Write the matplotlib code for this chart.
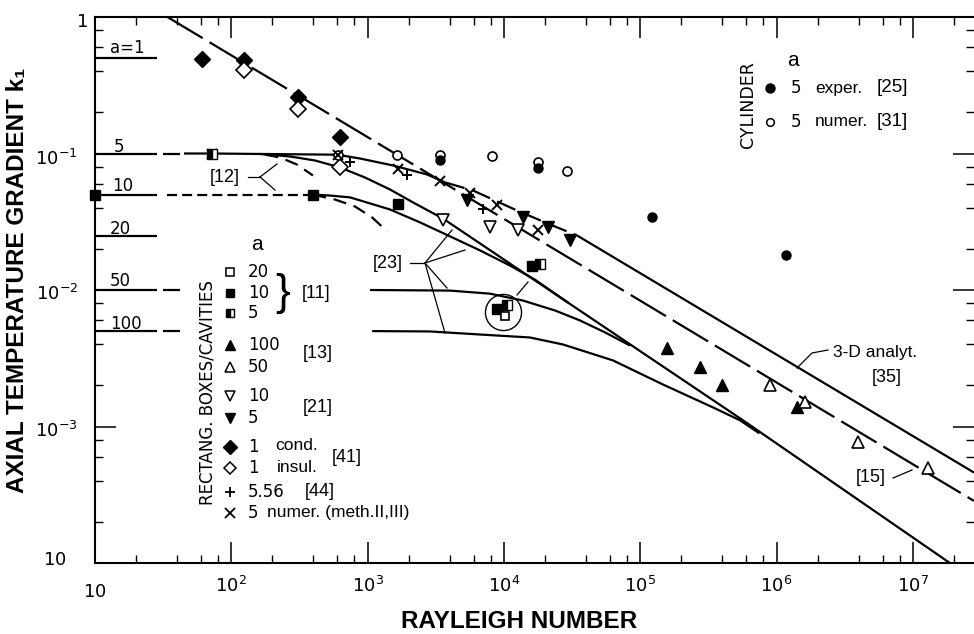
import matplotlib
matplotlib.use("Agg")
import matplotlib.pyplot as plt
from matplotlib.ticker import LogLocator, NullFormatter
from matplotlib.lines import Line2D
import matplotlib.transforms as mtrans

# ---------------------------------------------------------------- data
# asymptotic levels k1 = 1/(2a) marked at the left edge
level_lab = ["a=1", "5", "10", "20", "50", "100"]
level_k = [0.5, 0.1, 0.05, 0.025, 0.01, 0.005]
level_ra = [10, 28.5]
gap_ra = [31.5, 42]          # short extra dash after some level marks

# long-dashed a=1 line continuing as [15]
a1_ra = [34, 2.81e7]
a1_k = [1.0, 2.85e-4]

# a=5 curve ending as "3-D analyt. [35]"
a5_ra = [45, 72, 600, 879, 1540, 2730, 3700, 5930, 12500, 21800, 34400, 2.81e7]
a5_k = [0.1, 0.1, 0.098, 0.0919, 0.0817, 0.0702, 0.0614, 0.0536, 0.0382, 0.0302, 0.0251, 4.6e-4]

# [23] curves
l1_ra = [163, 270, 411, 628, 957, 1460, 2230, 3570, 5.68e5, 1.87e7]
l1_k = [0.0992, 0.0951, 0.0889, 0.079, 0.0667, 0.0545, 0.043, 0.0334, 0.00111, 1.0e-4]
a10_dash_ra = [33.7, 397]
l2_ra = [397, 530, 743, 1460, 2420, 4030, 6680, 11100, 16900, 30000]
l2_k = [0.05, 0.0492, 0.0477, 0.0389, 0.0313, 0.0247, 0.0195, 0.0151, 0.0119, 0.0080]
a50_ra = [1040, 4030, 7900, 13800, 23700, 36200, 55200, 84200]
a50_k = [0.01, 0.0099, 0.0094, 0.00837, 0.00708, 0.00598, 0.00489, 0.00392]
a100_ra = [1080, 2870, 6680, 15500, 27100, 63100, 1.47e5, 3.42e5, 5.4e5, 7.5e5]
a100_k = [0.005, 0.00497, 0.00472, 0.00449, 0.00399, 0.00305, 0.00203, 0.00138, 0.00111, 0.00089]

# [12] dashed curves
d12a_ra = [177, 228, 303, 397]
d12a_k = [0.098, 0.0935, 0.083, 0.069]
d12b_ra = [397, 577, 809, 1080, 1390]
d12b_k = [0.05, 0.046, 0.0409, 0.034, 0.0269]

# data points
cond_ra = [61, 124, 308, 628];          cond_k = [0.492, 0.484, 0.258, 0.133]
insul_ra = [124, 308, 628];             insul_k = [0.41, 0.211, 0.079]
cyl_num_ra = [607, 1640, 3400, 8180, 17800, 29000]
cyl_num_k = [0.098, 0.097, 0.097, 0.0955, 0.086, 0.075]
cyl_exp_ra = [3400, 17800, 1.22e5, 1.17e6]
cyl_exp_k = [0.089, 0.078, 0.0345, 0.0182]
cross_ra = [72, 607, 1670, 3400, 5640, 8890, 17800]
cross_k = [0.1, 0.098, 0.0772, 0.0634, 0.051, 0.0423, 0.0277]
plus_ra = [743, 1950, 7030];            plus_k = [0.086, 0.069, 0.0389]
vfill_ra = [5360, 13800, 21100, 30500]; vfill_k = [0.046, 0.034, 0.0287, 0.0234]
vopen_ra = [3570, 7900, 12700];         vopen_k = [0.0328, 0.0287, 0.0273]
tfill_ra = [1.57e5, 2.75e5, 3.98e5, 1.41e6]
tfill_k = [0.00379, 0.00275, 0.00203, 0.0014]
topen_ra = [8.96e5, 1.62e6, 3.96e6, 1.29e7]
topen_k = [0.0020, 0.00152, 0.00077, 0.000495]
sqf_ra = [10, 397, 1670, 8890, 16100];  sqf_k = [0.05, 0.05, 0.043, 0.0073, 0.0151]
sqh_ra = [72, 10500, 18400];            sqh_k = [0.1, 0.0078, 0.0156]
sqo_ra = [10200];                       sqo_k = [0.0065]
circ_ra = [9849];                       circ_k = [0.0069]

x_ticks = [10, 1e2, 1e3, 1e4, 1e5, 1e6, 1e7]
x_ticklabels = ["$10$", "$10^2$", "$10^3$", "$10^4$", "$10^5$", "$10^6$", "$10^7$"]

# ---------------------------------------------------------------- figure
W, H = 974, 634
fig = plt.figure(figsize=(W / 100, H / 100), dpi=100)
ax = fig.add_axes([95 / W, 1 - 563 / H, (974 - 95) / W, (563 - 17) / H])


def fx(x):
    return x / W


def fy(y):
    return 1 - y / H


TXT = "Liberation Sans"
NUM = "DejaVu Sans"
LW = 1.6

ax.set_xscale("log")
ax.set_yscale("log")
ax.set_xlim(10, 10 ** 7.449)
ax.set_ylim(1e-4, 1)


def curve(xs, ys, dashes=None, lw=LW, **kw):
    ln, = ax.plot(xs, ys, color="k", lw=lw, solid_capstyle="butt",
                  dash_capstyle="butt", solid_joinstyle="round", clip_on=True, **kw)
    if dashes is not None:
        ln.set_dashes(dashes)
    return ln


# level marks
for lab, k in zip(level_lab, level_k):
    curve(level_ra, [k, k])
    if lab in ("5", "50", "100"):
        curve(gap_ra, [k, k])

# long dashed a=1 / [15]
curve(a1_ra, a1_k, dashes=(18.5, 3.6))
# a=5 curve: solid, dashed middle part, solid tail
curve(a5_ra[:7], a5_k[:7])
curve(a5_ra[6:11], a5_k[6:11], dashes=(9, 3.5))
curve(a5_ra[10:], a5_k[10:])
# [23] curves
curve(l1_ra, l1_k)
curve(a10_dash_ra, [0.05, 0.05], dashes=(4.5, 2.3))
curve(l2_ra, l2_k)
curve(a50_ra, a50_k)
curve(a100_ra, a100_k)
# [12]
curve(d12a_ra, d12a_k, dashes=(6, 3.5))
curve(d12b_ra, d12b_k, dashes=(6, 3.5))

# markers
mk = dict(linestyle="none", clip_on=False, zorder=5)
ax.plot(cond_ra, cond_k, marker="D", ms=8.5, mfc="k", mec="k", **mk)
ax.plot(insul_ra, insul_k, marker="D", ms=8, mfc="white", mec="k", mew=1.2, **mk)
ax.plot(cyl_num_ra, cyl_num_k, marker="o", ms=6.5, mfc="white", mec="k", mew=1.2, **mk)
ax.plot(cyl_exp_ra, cyl_exp_k, marker="o", ms=6.5, mfc="k", mec="k", **mk)
ax.plot(cross_ra, cross_k, marker="x", ms=7, mec="k", mew=1.4, **mk)
ax.plot(plus_ra, plus_k, marker="+", ms=7, mec="k", mew=1.4, **mk)
ax.plot(vfill_ra, vfill_k, marker="v", ms=8, mfc="k", mec="k", **mk)
ax.plot(vopen_ra, vopen_k, marker="v", ms=8, mfc="white", mec="k", mew=1.2, **mk)
ax.plot(tfill_ra, tfill_k, marker="^", ms=8, mfc="k", mec="k", **mk)
ax.plot(topen_ra, topen_k, marker="^", ms=8, mfc="white", mec="k", mew=1.2, **mk)
ax.plot(sqf_ra, sqf_k, marker="s", ms=6.5, mfc="k", mec="k", **mk)
ax.plot(sqh_ra, sqh_k, marker="s", ms=6.5, mfc="k", mec="k", fillstyle="left",
        markerfacecoloralt="white", **mk)
ax.plot(sqo_ra, sqo_k, marker="s", ms=6, mfc="white", mec="k", mew=1.2, **mk)
ax.plot(circ_ra, circ_k, marker="o", ms=26, mfc="none", mec="k", mew=1.0, **mk)

# leader lines (data coordinates)
LL = 0.9
ax.plot([132.6, 162.4], [0.0673, 0.0673], color="k", lw=LL)
ax.plot([162.4, 216.4], [0.0673, 0.0838], color="k", lw=LL)
ax.plot([162.4, 209.2], [0.0673, 0.0540], color="k", lw=LL)
ax.plot([2047, 2637], [0.01577, 0.01577], color="k", lw=LL)
for ex, ey in [(4162, 0.02751), (5183, 0.01963), (3824, 0.01034), (3698, 0.00484)]:
    ax.plot([2637, ex], [0.01577, ey], color="k", lw=LL)
ax.plot([12480, 15030], [0.00919, 0.01145], color="k", lw=LL)
ax.plot([1.414e6, 1.822e6, 2.387e6], [0.002683, 0.003455, 0.003635], color="k", lw=LL)
ax.plot([7.157e6, 9.866e6], [4.195e-4, 4.8e-4], color="k", lw=LL)

# axes styling
for s in ("left", "bottom", "top"):
    ax.spines[s].set_linewidth(1.5)
ax.spines["right"].set_visible(False)
for axis in (ax.xaxis, ax.yaxis):
    axis.set_major_locator(LogLocator(base=10, numticks=20))
    axis.set_minor_locator(LogLocator(base=10, subs=[2, 4, 6, 8], numticks=20))
    axis.set_minor_formatter(NullFormatter())
ax.tick_params(which="major", direction="in", length=15, width=1.1,
               top=True, right=True, labelbottom=False, labelleft=False)
ax.tick_params(which="minor", direction="in", length=6, width=1.0,
               top=True, right=True)

# x tick labels
blend = mtrans.blended_transform_factory(ax.transData, ax.transAxes)
for v, lab in zip(x_ticks, x_ticklabels):
    yb = -0.0623 if v == 10 else -0.0531
    ax.text(v, yb, lab, transform=blend, ha="center", va="baseline",
            fontsize=13, family=NUM)

# y tick labels
fig.text(fx(88), fy(27), "$1$", ha="right", va="baseline", fontsize=13, family=NUM)
fig.text(fx(78), fy(165), "$10^{-1}$", ha="right", va="baseline", fontsize=13, family=NUM)
fig.text(fx(78), fy(300), "$10^{-2}$", ha="right", va="baseline", fontsize=13, family=NUM)
fig.text(fx(78), fy(437), "$10^{-3}$", ha="right", va="baseline", fontsize=13, family=NUM)
fig.text(fx(67), fy(565), "$10$", ha="right", va="baseline", fontsize=13, family=NUM)

# axis titles
fig.text(fx(519), fy(621), "RAYLEIGH NUMBER", ha="center", va="center",
         fontsize=17.5, weight="bold", family=TXT)
fig.text(fx(18), fy(280), "AXIAL TEMPERATURE GRADIENT k\u2081", ha="center", va="center",
         rotation=90, fontsize=17.5, weight="bold", family=[TXT, "DejaVu Sans"])

# level labels
for lab, (xx, yy) in zip(level_lab, [(110, 48), (114, 147), (112, 186), (110, 229),
                                     (110, 281), (110, 324)]):
    fig.text(fx(xx), fy(yy), lab, ha="left", va="center", fontsize=12, family=NUM)

# curve labels
fig.text(fx(240), fy(177), "[12]", ha="right", va="center", fontsize=13, family=TXT)
fig.text(fx(403), fy(263), "[23]", ha="right", va="center", fontsize=13, family=TXT)
fig.text(fx(833), fy(352), "3-D analyt.", ha="left", va="center", fontsize=12.5, family=TXT)
fig.text(fx(872), fy(378), "[35]", ha="left", va="center", fontsize=13, family=TXT)
fig.text(fx(886), fy(477), "[15]", ha="right", va="center", fontsize=13, family=TXT)

# legend: rectangular boxes/cavities
fig.text(fx(208), fy(393), "RECTANG. BOXES/CAVITIES", rotation=90, ha="center",
         va="center", fontsize=12, family=NUM)
fig.text(fx(257), fy(245), "a", ha="center", va="center", fontsize=15, family=TXT)


def lmark(x, y, **kw):
    fig.add_artist(Line2D([fx(x)], [fy(y)], linestyle="none", color="k", **kw))


LM = 230
lmark(LM, 272, marker="s", ms=5.5, mfc="white", mec="k", mew=1.1)
lmark(LM, 293, marker="s", ms=6, mfc="k", mec="k")
lmark(LM, 313, marker="s", ms=6, mfc="k", mec="k", fillstyle="left", markerfacecoloralt="white")
lmark(LM, 345, marker="^", ms=7.5, mfc="k", mec="k")
lmark(LM, 367, marker="^", ms=7.5, mfc="white", mec="k", mew=1.1)
lmark(LM, 396, marker="v", ms=7.5, mfc="white", mec="k", mew=1.1)
lmark(LM, 418, marker="v", ms=7.5, mfc="k", mec="k")
lmark(LM, 447, marker="D", ms=7, mfc="k", mec="k")
lmark(LM, 468, marker="D", ms=6.5, mfc="white", mec="k", mew=1.1)
lmark(LM, 492, marker="+", ms=7, mec="k", mew=1.3)
lmark(LM, 513, marker="x", ms=6.5, mec="k", mew=1.3)

for txt, yy in [("20", 272), ("10", 293), ("5", 313), ("100", 345), ("50", 367),
                ("10", 396), ("5", 418), ("1", 447), ("1", 468), ("5.56", 492), ("5", 513)]:
    fig.text(fx(248), fy(yy), txt, ha="left", va="center", fontsize=12, family=NUM)
fig.text(fx(275), fy(446), "cond.", ha="left", va="center", fontsize=12.5, family=TXT)
fig.text(fx(277), fy(467), "insul.", ha="left", va="center", fontsize=12.5, family=TXT)
fig.text(fx(267), fy(513), "numer. (meth.II,III)", ha="left", va="center", fontsize=12.5, family=TXT)
fig.text(fx(283), fy(294), "}", ha="center", va="center", fontsize=32, family=TXT)
fig.text(fx(302), fy(293), "[11]", ha="left", va="center", fontsize=13, family=TXT)
fig.text(fx(303), fy(354), "[13]", ha="left", va="center", fontsize=13, family=TXT)
fig.text(fx(303), fy(408), "[21]", ha="left", va="center", fontsize=13, family=TXT)
fig.text(fx(332), fy(458), "[41]", ha="left", va="center", fontsize=13, family=TXT)
fig.text(fx(305), fy(491), "[44]", ha="left", va="center", fontsize=13, family=TXT)

# legend: cylinder
fig.text(fx(748), fy(105), "CYLINDER", rotation=90, ha="center", va="center",
         fontsize=12.5, family=NUM)
fig.text(fx(793), fy(60), "a", ha="center", va="center", fontsize=15, family=TXT)
lmark(770, 88, marker="o", ms=6.5, mfc="k", mec="k")
lmark(770, 122, marker="o", ms=5.5, mfc="white", mec="k", mew=1.1)
fig.text(fx(791), fy(88), "5", ha="left", va="center", fontsize=12, family=NUM)
fig.text(fx(791), fy(122), "5", ha="left", va="center", fontsize=12, family=NUM)
fig.text(fx(815), fy(88), "exper.", ha="left", va="center", fontsize=12.5, family=TXT)
fig.text(fx(815), fy(122), "numer.", ha="left", va="center", fontsize=12.5, family=TXT)
fig.text(fx(877), fy(88), "[25]", ha="left", va="center", fontsize=13.5, family=TXT)
fig.text(fx(877), fy(122), "[31]", ha="left", va="center", fontsize=13.5, family=TXT)

fig.savefig("out.png", dpi=100)
